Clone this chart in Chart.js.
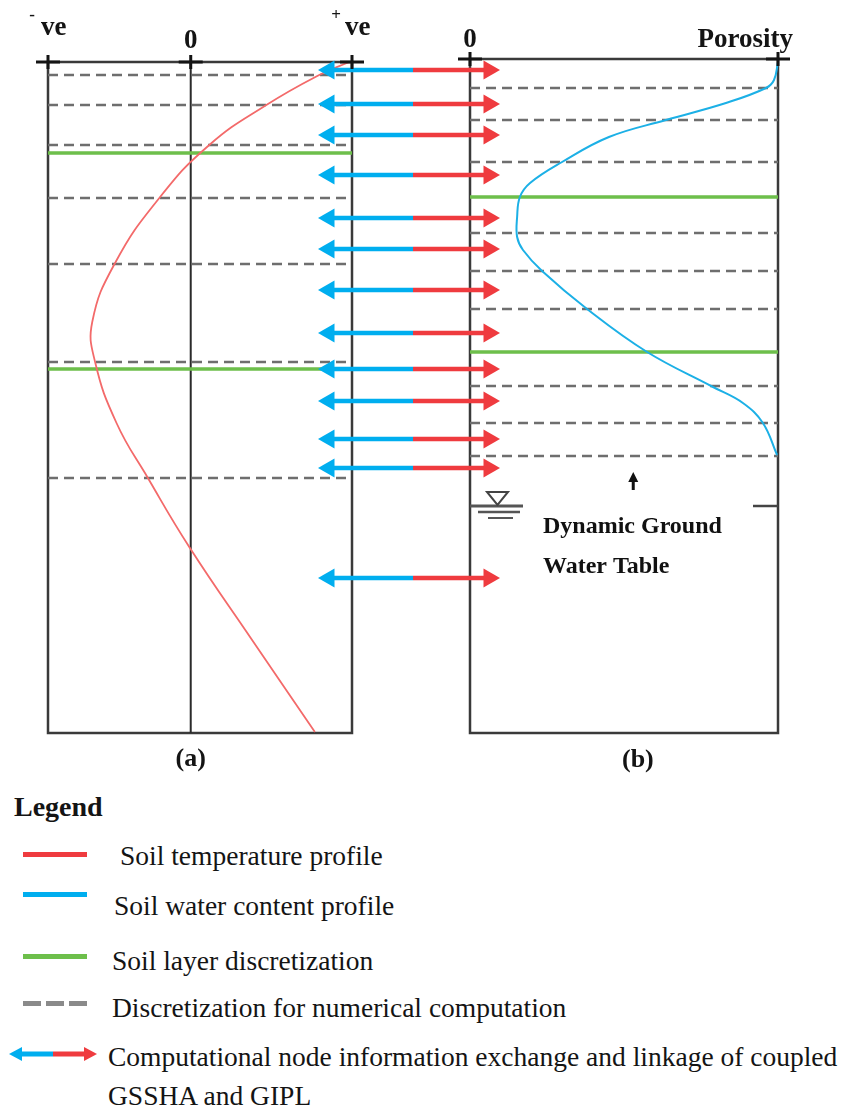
<!DOCTYPE html>
<html>
<head>
<meta charset="utf-8">
<title>Coupled soil temperature and water content profiles</title>
<script src="https://cdn.jsdelivr.net/npm/chart.js@4/dist/chart.umd.min.js"></script>
<style>
  html, body { margin: 0; padding: 0; background: #fff; }
  body { width: 846px; height: 1109px; position: relative; overflow: hidden;
         font-family: "Liberation Serif", "Times New Roman", serif; color: #141414; }
  #profiles { position: absolute; left: 0; top: 0; }
  .legend-title { position: absolute; left: 14px; top: 791px; font-size: 28px; line-height: 32px; font-weight: bold; }
  .lg-text { position: absolute; font-size: 27.5px; line-height: 32px; white-space: nowrap; }
  .sw { position: absolute; height: 5px; }
</style>
</head>
<body>
<canvas id="profiles" width="846" height="790"></canvas>

<div class="legend-title">Legend</div>
<div class="sw" style="left:23px; top:852px; width:64px; background:#ef3b3f;"></div>
<div class="lg-text" style="left:120px; top:840px;">Soil temperature profile</div>
<div class="sw" style="left:23px; top:892px; width:64px; background:#00aeef;"></div>
<div class="lg-text" style="left:114px; top:890px;">Soil water content profile</div>
<div class="sw" style="left:23px; top:954px; width:64px; background:#6dbf4b;"></div>
<div class="lg-text" style="left:112px; top:945px;">Soil layer discretization</div>
<div class="sw" style="left:23px; top:1001px; width:18px; background:#8a8a8a;"></div>
<div class="sw" style="left:46px; top:1001px; width:18px; background:#8a8a8a;"></div>
<div class="sw" style="left:69px; top:1001px; width:18px; background:#8a8a8a;"></div>
<div class="lg-text" style="left:112px; top:992px;">Discretization for numerical computation</div>
<svg style="position:absolute; left:0; top:1044px;" width="110" height="20">
  <line x1="20" y1="10" x2="53" y2="10" stroke="#00aeef" stroke-width="5"/>
  <polygon points="9,10 22,3 22,17" fill="#00aeef"/>
  <line x1="53" y1="10" x2="86" y2="10" stroke="#ef3b3f" stroke-width="5"/>
  <polygon points="97,10 84,3 84,17" fill="#ef3b3f"/>
</svg>
<div class="lg-text" style="left:108px; top:1041px;">Computational node information exchange and linkage of coupled</div>
<div class="lg-text" style="left:108px; top:1080px;">GSSHA and GIPL</div>

<script>
// ---- Depth axis (model length units, 0 = ground surface) ----
const DEPTH_MAX = 671;

// ---- Panel (a): soil temperature profile, relative units from -ve to +ve ----
const TEMP_MIN = -1;
const TEMP_MAX = 1.13;
const tempTickValues = [TEMP_MIN, 0, TEMP_MAX];
const tempTickLabels = ['-ve', '0', '+ve'];
const tempDepths = [0, 13, 43, 83, 136, 201, 260, 300, 361, 416, 485, 578, 670];
const tempValues = [1.11, 0.90, 0.53, 0.13, -0.22, -0.53, -0.69, -0.67, -0.52, -0.30, -0.01, 0.43, 0.87];
const tempLayerDepths = [91, 307];
const tempNodeDepths = [13, 43, 83, 136, 202, 300, 416];

// ---- Panel (b): soil water content, as a fraction of porosity ----
const POROSITY = 1;
const waterTickValues = [0, POROSITY];
const waterTickLabels = ['0', 'Porosity'];
const waterDepths = [0, 18, 26, 41, 58, 75, 100, 121, 135, 155, 175, 188, 209, 247, 290, 325, 341, 361, 393];
const waterValues = [1.0, 0.987, 0.961, 0.831, 0.636, 0.451, 0.299, 0.195, 0.162, 0.153, 0.153, 0.172, 0.234, 0.380, 0.575, 0.789, 0.886, 0.951, 0.997];
const waterLayerDepths = [135, 290];
const waterNodeDepths = [26, 58, 100, 171, 209, 247, 324, 361, 394];
const WATER_TABLE_DEPTH = 444;

// ---- Computational nodes exchanged between GSSHA and GIPL ----
const linkNodeDepths = [8, 42, 73, 113, 156, 187, 228, 271, 307, 339, 377, 406, 516];

const panelCaptions = ['(a)', '(b)'];
const waterTableLabel = ['Dynamic Ground', 'Water Table'];

// ---- Layout: both panels share one plotting area (units = px across it) ----
const AREA_W = 730;
const PANEL_A = [0, 304];
const PANEL_B = [422, 730];
const LINK = { left: 270, mid: 365, right: 452 };
const HEAD_R = 11;

const COLORS = {
  temp: '#f36a6a', water: '#1cb0e6', layer: '#6dbf4b', node: '#6e6e6e',
  blue: '#00aeef', red: '#ef3b3f', frame: '#3a3a3a', ink: '#141414'
};

function spanRange(v0, v1, p0, p1) {
  const per = (v1 - v0) / (p1 - p0);
  return { min: v0 - p0 * per, max: v1 + (AREA_W - p1) * per };
}
const xaRange = spanRange(TEMP_MIN, TEMP_MAX, PANEL_A[0], PANEL_A[1]);
const xbRange = spanRange(0, POROSITY, PANEL_B[0], PANEL_B[1]);

function horizontalLines(depths, x0, x1) {
  const pts = [];
  depths.forEach(d => { pts.push({ x: x0, y: d }, { x: x1, y: d }, { x: x1, y: null }); });
  return pts;
}

const tempCurve = tempDepths.map((d, i) => ({ x: tempValues[i], y: d }));
const waterCurve = waterDepths.map((d, i) => ({ x: waterValues[i], y: d }));

const blueShaft = [], redShaft = [], blueHeads = [], redHeads = [];
linkNodeDepths.forEach(d => {
  blueShaft.push({ x: LINK.left + HEAD_R, y: d }, { x: LINK.mid, y: d }, { x: LINK.mid, y: null });
  redShaft.push({ x: LINK.mid, y: d }, { x: LINK.right - HEAD_R, y: d }, { x: LINK.right, y: null });
  blueHeads.push({ x: LINK.left + HEAD_R, y: d });
  redHeads.push({ x: LINK.right - HEAD_R, y: d });
});

const lineDefaults = { showLine: true, pointRadius: 0, clip: false, spanGaps: false };

// Frames, corner ticks, axis labels and the water-table marker
const diagramPlugin = {
  id: 'soilDiagram',
  beforeDatasetsDraw(chart) {
    const { ctx, scales: { xa, xb, y } } = chart;
    const top = y.getPixelForValue(0), bot = y.getPixelForValue(DEPTH_MAX);
    const topB = y.getPixelForValue(-3);
    ctx.save();
    ctx.strokeStyle = COLORS.frame;
    ctx.lineWidth = 2.5;
    const aL = xa.getPixelForValue(TEMP_MIN), aR = xa.getPixelForValue(TEMP_MAX);
    ctx.strokeRect(aL, top, aR - aL, bot - top);
    const bL = xb.getPixelForValue(0), bR = xb.getPixelForValue(POROSITY);
    ctx.strokeRect(bL, topB, bR - bL, bot - topB);
    ctx.lineWidth = 2;
    ctx.strokeStyle = '#2a2a2a';
    const z = xa.getPixelForValue(0);
    ctx.beginPath(); ctx.moveTo(z, top); ctx.lineTo(z, bot); ctx.stroke();
    ctx.restore();
  },
  afterDatasetsDraw(chart) {
    const { ctx, scales: { xa, xb, y } } = chart;
    const top = y.getPixelForValue(0), topB = y.getPixelForValue(-3), bot = y.getPixelForValue(DEPTH_MAX);
    ctx.save();
    ctx.fillStyle = COLORS.ink;
    ctx.strokeStyle = COLORS.ink;

    function cross(x, yy) {
      ctx.lineWidth = 3;
      ctx.beginPath();
      ctx.moveTo(x - 12, yy); ctx.lineTo(x + 12, yy);
      ctx.moveTo(x, yy - 7); ctx.lineTo(x, yy + 7);
      ctx.stroke();
    }
    function tickLabel(label, x, baseline, align) {
      const sign = label[0] === '+' || label[0] === '-' ? label[0] : '';
      const main = sign ? label.slice(1) : label;
      ctx.font = 'bold 27px "Liberation Serif", serif';
      if (sign) {
        ctx.textAlign = 'left';
        ctx.textBaseline = 'alphabetic';
        ctx.fillText(main, x - 7, baseline - 13);
        ctx.font = 'bold 17px "Liberation Serif", serif';
        ctx.textAlign = 'center';
        ctx.textBaseline = 'middle';
        ctx.fillText(sign, x - 16, baseline - 32);
      } else {
        ctx.textAlign = align;
        ctx.textBaseline = 'alphabetic';
        ctx.fillText(main, align === 'right' ? x + 15 : x, baseline);
      }
    }

    tempTickValues.forEach((v, i) => {
      const x = xa.getPixelForValue(v);
      cross(x, top);
      tickLabel(tempTickLabels[i], x, top - 14, 'center');
    });
    waterTickValues.forEach((v, i) => {
      const x = xb.getPixelForValue(v);
      cross(x, topB);
      tickLabel(waterTickLabels[i], x, topB - 12, i === waterTickValues.length - 1 ? 'right' : 'center');
    });

    // Panel captions
    ctx.font = 'bold 26px "Liberation Serif", serif';
    ctx.textAlign = 'center';
    ctx.textBaseline = 'alphabetic';
    ctx.fillText(panelCaptions[0], xa.getPixelForValue(0), bot + 33);
    ctx.fillText(panelCaptions[1], xb.getPixelForValue(0.545), bot + 34);

    // Water table marker
    const wt = y.getPixelForValue(WATER_TABLE_DEPTH);
    const b0 = xb.getPixelForValue(0), b1 = xb.getPixelForValue(POROSITY);
    ctx.strokeStyle = '#555';
    ctx.lineWidth = 3;
    ctx.beginPath(); ctx.moveTo(b0, wt); ctx.lineTo(b0 + 53, wt); ctx.stroke();
    ctx.lineWidth = 2.5;
    ctx.beginPath(); ctx.moveTo(b0 + 8, wt + 6); ctx.lineTo(b0 + 50, wt + 6); ctx.stroke();
    ctx.lineWidth = 2;
    ctx.beginPath(); ctx.moveTo(b0 + 18, wt + 12); ctx.lineTo(b0 + 43, wt + 12); ctx.stroke();
    ctx.lineWidth = 2;
    ctx.strokeStyle = '#444';
    ctx.beginPath();
    ctx.moveTo(b0 + 17, wt - 14); ctx.lineTo(b0 + 38, wt - 14); ctx.lineTo(b0 + 27.5, wt - 1); ctx.closePath();
    ctx.stroke();
    ctx.strokeStyle = '#444';
    ctx.lineWidth = 2.5;
    ctx.beginPath(); ctx.moveTo(b1 - 25, wt); ctx.lineTo(b1, wt); ctx.stroke();

    // Rising water table indicator
    const ax = xb.getPixelForValue(0.53);
    ctx.fillStyle = '#111';
    ctx.fillRect(ax - 1.5, wt - 26, 3, 10);
    ctx.beginPath();
    ctx.moveTo(ax, wt - 34); ctx.lineTo(ax + 5, wt - 24); ctx.lineTo(ax - 5, wt - 24); ctx.closePath();
    ctx.fill();

    ctx.font = 'bold 24px "Liberation Serif", serif';
    ctx.textAlign = 'left';
    const tx = xb.getPixelForValue(0.237);
    ctx.fillText(waterTableLabel[0], tx, wt + 27);
    ctx.fillText(waterTableLabel[1], tx, wt + 67);
    ctx.restore();
  }
};

new Chart(document.getElementById('profiles'), {
  type: 'scatter',
  data: {
    datasets: [
      { ...lineDefaults, showLine: false, label: 'Exchange (GIPL side)', data: blueHeads, xAxisID: 'xl',
        pointStyle: 'triangle', pointRadius: HEAD_R, pointRotation: -90, pointBorderWidth: 0,
        pointBackgroundColor: COLORS.blue, backgroundColor: COLORS.blue },
      { ...lineDefaults, showLine: false, label: 'Exchange (GSSHA side)', data: redHeads, xAxisID: 'xl',
        pointStyle: 'triangle', pointRadius: HEAD_R, pointRotation: 90, pointBorderWidth: 0,
        pointBackgroundColor: COLORS.red, backgroundColor: COLORS.red },
      { ...lineDefaults, label: 'Exchange shaft blue', data: blueShaft, xAxisID: 'xl',
        borderColor: COLORS.blue, borderWidth: 4.5, borderCapStyle: 'butt' },
      { ...lineDefaults, label: 'Exchange shaft red', data: redShaft, xAxisID: 'xl',
        borderColor: COLORS.red, borderWidth: 4.5, borderCapStyle: 'butt' },
      { ...lineDefaults, label: 'Soil temperature profile', data: tempCurve, xAxisID: 'xa',
        borderColor: COLORS.temp, borderWidth: 1.8, tension: 0.45 },
      { ...lineDefaults, label: 'Soil water content profile', data: waterCurve, xAxisID: 'xb',
        borderColor: COLORS.water, borderWidth: 2, tension: 0.4 },
      { ...lineDefaults, label: 'Soil layers (a)', data: horizontalLines(tempLayerDepths, TEMP_MIN, TEMP_MAX), xAxisID: 'xa',
        borderColor: COLORS.layer, borderWidth: 3.5 },
      { ...lineDefaults, label: 'Soil layers (b)', data: horizontalLines(waterLayerDepths, 0, POROSITY), xAxisID: 'xb',
        borderColor: COLORS.layer, borderWidth: 3.5 },
      { ...lineDefaults, label: 'Numerical nodes (a)', data: horizontalLines(tempNodeDepths, TEMP_MIN, TEMP_MAX), xAxisID: 'xa',
        borderColor: COLORS.node, borderWidth: 2.5, borderDash: [10, 6] },
      { ...lineDefaults, label: 'Numerical nodes (b)', data: horizontalLines(waterNodeDepths, 0, POROSITY), xAxisID: 'xb',
        borderColor: COLORS.node, borderWidth: 2.5, borderDash: [10, 6] }
    ]
  },
  options: {
    responsive: false,
    devicePixelRatio: 1,
    animation: false,
    events: [],
    layout: { padding: { left: 48, right: 846 - 48 - AREA_W, top: 62, bottom: 790 - 62 - DEPTH_MAX } },
    plugins: { legend: { display: false }, tooltip: { enabled: false } },
    scales: {
      xa: { type: 'linear', axis: 'x', display: false, min: xaRange.min, max: xaRange.max },
      xb: { type: 'linear', axis: 'x', display: false, min: xbRange.min, max: xbRange.max },
      xl: { type: 'linear', axis: 'x', display: false, min: 0, max: AREA_W },
      y: { type: 'linear', display: false, min: 0, max: DEPTH_MAX, reverse: true }
    }
  },
  plugins: [diagramPlugin]
});
</script>
</body>
</html>
